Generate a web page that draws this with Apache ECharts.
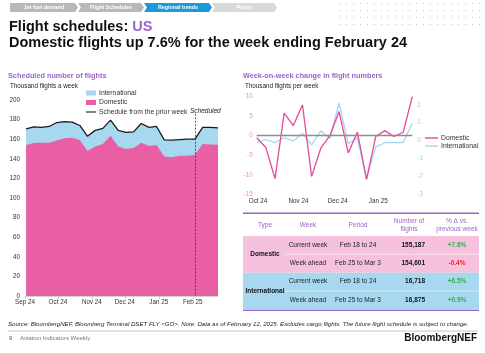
<!DOCTYPE html>
<html>
<head>
<meta charset="utf-8">
<script src="https://cdn.jsdelivr.net/npm/echarts@6/dist/echarts.min.js"></script>
<style>
  html, body { margin: 0; padding: 0; background: #fff; }
  #main { width: 485px; height: 353px; }
</style>
</head>
<body>
<div id="main"></div>
<script>
// ---- data ----
const leftDates = ['2024-09-02','2024-09-09','2024-09-16','2024-09-23','2024-09-30',
  '2024-10-07','2024-10-14','2024-10-21','2024-10-28','2024-11-04','2024-11-11','2024-11-18','2024-11-25',
  '2024-12-02','2024-12-09','2024-12-16','2024-12-23','2024-12-30','2025-01-06','2025-01-13','2025-01-20',
  '2025-01-27','2025-02-03','2025-02-10','2025-02-17','2025-02-24'];
const domestic = [154.2, 156, 156.5, 156.5, 158.6, 161, 161.6, 159.3, 148, 152.5, 155, 163.4, 152.5,
  150, 151, 156.5, 153, 154, 142.3, 141.7, 143, 143, 144.2, 155.2, 154.6, 154.3];
const international = [16.3, 16.5, 15.5, 16.5, 18.4, 17, 15.9, 14.7, 15, 16.5, 16, 16.1, 16.5,
  17, 16.5, 19.5, 19, 19, 17, 17.3, 16.5, 17, 15.7, 16.7, 16.9, 17.2];
const priorSchedule = [170.5, 172.5, 172, 173, 177, 178, 177.5, 174, 163, 169, 171, 179.5, 169,
  167, 167.5, 176, 172, 173, 159.3, 159, 159.5, 160, 160, 172, 172, 171.5];
const scheduledFrom = '2025-02-03';
const leftMonths = ['2024-09-01','2024-10-01','2024-11-01','2024-12-01','2025-01-01','2025-02-01'];

const rightDates = ['2024-09-30','2024-10-07','2024-10-14','2024-10-21','2024-10-28','2024-11-04',
  '2024-11-11','2024-11-18','2024-11-25','2024-12-02','2024-12-09','2024-12-16','2024-12-23',
  '2024-12-30','2025-01-06','2025-01-13','2025-01-20','2025-01-27'];
const domChange = [-0.5, -3, -11, 5.8, 2.6, 7.9, -10.4, -3.2, 0, 6.2, -4.4, 0.9, -11.2, -0.2, 1.3, -0.2, 0.9, 10];
const intlChange = [-0.12, 0.06, -0.12, 0.17, -0.02, 0.41, -0.24, 0.54, 0.13, 2.09, -0.18, 0.15, -2.15,
  -0.35, -0.12, -0.11, -0.11, 0.97];
const rightMonths = ['2024-10-01','2024-11-01','2024-12-01','2025-01-01'];

const tableTypes = ['Domestic', 'International'];
const tableWeeks = ['Current week', 'Week ahead'];
const tablePeriods = ['Feb 18 to 24', 'Feb 25 to Mar 3'];
const tableFlights = [['155,187', '154,601'], ['16,718', '16,875']];
const tableChange = [['+7.6%', '-0.4%'], ['+6.5%', '+0.9%']];

const navItems = ['Jet fuel demand', 'Flight Schedules', 'Regional trends', 'Prices'];

// ---- styles ----
const FONT = 'Liberation Sans, Arial, sans-serif';
const PINK = '#e85fa3';
const BLUE = '#a8d8f0';
const LINE_PINK = '#e8489a';
const LINE_BLUE = '#a6d7f0';
const PURPLE = '#9d62c8';
const LINE_ICON = 'path://M0,0H20V2.2H0Z';
const MON = ['Jan','Feb','Mar','Apr','May','Jun','Jul','Aug','Sep','Oct','Nov','Dec'];

function ts(s) { const p = s.split('-'); return new Date(+p[0], +p[1] - 1, +p[2]).getTime(); }
function monthLabel(v) { const d = new Date(v); return MON[d.getMonth()] + ' ' + String(d.getFullYear()).slice(2); }
function pairs(dates, vals) { return dates.map((d, i) => [ts(d), vals[i]]); }

// top of the blue band = domestic + international
const totalFlights = domestic.map((v, i) => +(v + international[i]).toFixed(1));

let myChart = echarts.init(document.getElementById('main'), null, { renderer: 'canvas' });

// dotted pattern, top right corner
let dotCanvas = document.createElement('canvas');
dotCanvas.width = 7; dotCanvas.height = 7;
let dctx = dotCanvas.getContext('2d');
dctx.fillStyle = '#c4c4c4';
dctx.fillRect(3, 3, 1, 1);

let graphics = [];
graphics.push({ type: 'rect', shape: { x: 335, y: 0, width: 150, height: 25 },
  style: { fill: { image: dotCanvas, repeat: 'repeat' } }, silent: true });

// navigation chevrons
const navX = [10, 78, 144, 212];
const navColors = ['#b8b8b8', '#b8b8b8', '#1b9ad6', '#d9d9d9'];
for (let i = 0; i < navItems.length; i++) {
  let x0 = navX[i], x1 = (i < 3 ? navX[i + 1] : 277) - 3;
  let pts = [[x0, 3], [x1, 3], [x1 + 3, 7.5], [x1, 12], [x0, 12]];
  if (i > 0) pts.push([x0 + 3, 7.5]);
  graphics.push({ type: 'polygon', shape: { points: pts }, style: { fill: navColors[i] }, silent: true });
  graphics.push({ type: 'text', x: (x0 + x1 + 3) / 2, y: 7.7,
    style: { text: navItems[i], fill: '#fff', font: 'bold 5.3px ' + FONT, align: 'center', verticalAlign: 'middle' } });
}

// headline
graphics.push({ type: 'text', x: 9, y: 27,
  style: { text: '{a|Flight schedules: }{b|US}', verticalAlign: 'middle',
    rich: { a: { font: 'bold 14.5px ' + FONT, fill: '#111' }, b: { font: 'bold 14.5px ' + FONT, fill: PURPLE } } } });
graphics.push({ type: 'text', x: 9, y: 43.3,
  style: { text: 'Domestic flights up 7.6% for the week ending February 24', font: 'bold 14.5px ' + FONT,
    fill: '#111', verticalAlign: 'middle' } });

// panel titles
graphics.push({ type: 'text', x: 8, y: 76, style: { text: 'Scheduled number of flights', font: 'bold 7.3px ' + FONT, fill: PURPLE, verticalAlign: 'middle' } });
graphics.push({ type: 'text', x: 10, y: 86.7, style: { text: 'Thousand flights a week', font: '6.3px ' + FONT, fill: '#222', verticalAlign: 'middle' } });
graphics.push({ type: 'text', x: 243, y: 76, style: { text: 'Week-on-week change in flight numbers', font: 'bold 7.3px ' + FONT, fill: PURPLE, verticalAlign: 'middle' } });
graphics.push({ type: 'text', x: 245, y: 86.7, style: { text: 'Thousand flights per week', font: '6.3px ' + FONT, fill: '#222', verticalAlign: 'middle' } });
graphics.push({ type: 'text', x: 190, y: 110.7, style: { text: 'Scheduled', font: 'italic 6.5px ' + FONT, fill: '#222', verticalAlign: 'middle' } });

// table
const tL = 243, tR = 479;
const colType = 265, colWeek = 308, colPeriod = 358, colNum = 425, colPct = 457;
const rowY = [245.7, 263.3, 281.7, 300];
graphics.push({ type: 'rect', shape: { x: tL, y: 236, width: tR - tL, height: 36.7 }, style: { fill: '#f6c1dd' } });
graphics.push({ type: 'rect', shape: { x: tL, y: 272.7, width: tR - tL, height: 37.3 }, style: { fill: BLUE } });
graphics.push({ type: 'line', shape: { x1: tL, y1: 310.5, x2: tR, y2: 310.5 }, style: { stroke: PURPLE, lineWidth: 1.2 } });
graphics.push({ type: 'line', shape: { x1: 285, y1: 254.3, x2: tR, y2: 254.3 }, style: { stroke: 'rgba(255,255,255,0.7)', lineWidth: 0.7 } });
graphics.push({ type: 'line', shape: { x1: 285, y1: 291, x2: tR, y2: 291 }, style: { stroke: 'rgba(255,255,255,0.7)', lineWidth: 0.7 } });
const headTxt = [['Type', colType], ['Week', colWeek], ['Period', colPeriod], ['Number of\nflights', colNum - 16], ['% \u0394 vs.\nprevious week', colPct]];
headTxt.forEach(h => graphics.push({ type: 'text', x: h[1], y: 225,
  style: { text: h[0], font: '6.5px ' + FONT, fill: PURPLE, align: 'center', verticalAlign: 'middle', lineHeight: 8 } }));
for (let g = 0; g < 2; g++) {
  graphics.push({ type: 'text', x: colType, y: (rowY[g * 2] + rowY[g * 2 + 1]) / 2,
    style: { text: tableTypes[g], font: 'bold 6.5px ' + FONT, fill: '#111', align: 'center', verticalAlign: 'middle' } });
  for (let r = 0; r < 2; r++) {
    let y = rowY[g * 2 + r];
    graphics.push({ type: 'text', x: colWeek, y: y, style: { text: tableWeeks[r], font: '6.5px ' + FONT, fill: '#222', align: 'center', verticalAlign: 'middle' } });
    graphics.push({ type: 'text', x: colPeriod, y: y, style: { text: tablePeriods[r], font: '6.5px ' + FONT, fill: '#222', align: 'center', verticalAlign: 'middle' } });
    graphics.push({ type: 'text', x: colNum, y: y, style: { text: tableFlights[g][r], font: 'bold 6.5px ' + FONT, fill: '#111', align: 'right', verticalAlign: 'middle' } });
    let pct = tableChange[g][r];
    graphics.push({ type: 'text', x: colPct, y: y, style: { text: pct, font: 'bold 6.5px ' + FONT,
      fill: pct.charAt(0) === '-' ? '#e8262b' : '#2fb34c', align: 'center', verticalAlign: 'middle' } });
  }
}
graphics.push({ type: 'line', shape: { x1: tL, y1: 213.3, x2: tR, y2: 213.3 }, style: { stroke: PURPLE, lineWidth: 1.5 } });

// footer
graphics.push({ type: 'text', x: 8, y: 324, style: { text: 'Source: BloombergNEF, Bloomberg Terminal DSET FLY <GO>. Note: Data as of February 12, 2025. Excludes cargo flights. The future flight schedule is subject to change.',
  font: 'italic 6.1px ' + FONT, fill: '#222', verticalAlign: 'middle' } });
graphics.push({ type: 'line', shape: { x1: 8, y1: 331, x2: 478, y2: 331 }, style: { stroke: '#c8a8e0', lineWidth: 0.8 } });
graphics.push({ type: 'text', x: 9, y: 338.5, style: { text: '9', font: '6px ' + FONT, fill: '#555', verticalAlign: 'middle' } });
graphics.push({ type: 'text', x: 20, y: 338.5, style: { text: 'Aviation Indicators Weekly', font: '6px ' + FONT, fill: '#777', verticalAlign: 'middle' } });
graphics.push({ type: 'text', x: 477, y: 338.5, style: { text: 'BloombergNEF', font: 'bold 10px ' + FONT, fill: '#111', align: 'right', verticalAlign: 'middle' } });

const axisText = { fontFamily: FONT, fontSize: 6.3, color: '#333' };

let option = {
  animation: false,
  textStyle: { fontFamily: FONT },
  legend: [{
    left: 86, top: 89.5, padding: 0, orient: 'vertical', itemWidth: 10, itemHeight: 5, itemGap: 2.5, selectedMode: false,
    textStyle: { fontFamily: FONT, fontSize: 6.8, color: '#333', padding: [0, 0, 0, -2] },
    data: [{ name: 'International', icon: 'rect' }, { name: 'Domestic', icon: 'rect' },
      { name: 'Schedule from the prior week', icon: LINE_ICON }]
  }, {
    left: 425, top: 134.5, padding: 0, orient: 'vertical', itemWidth: 13, itemHeight: 5, itemGap: 1, selectedMode: false,
    textStyle: { fontFamily: FONT, fontSize: 6.8, color: '#333', padding: [0, 0, 0, -2] },
    formatter: name => name.replace(' WoW', ''),
    data: [{ name: 'Domestic WoW', icon: LINE_ICON }, { name: 'International WoW', icon: LINE_ICON }]
  }],
  grid: [
    { left: 25, right: 267, top: 100, bottom: 57 },
    { left: 256.7, right: 72.7, top: 96.7, bottom: 158.7 }
  ],
  xAxis: [{
    gridIndex: 0, type: 'value', min: ts('2024-09-01'), max: ts('2025-02-24'),
    axisLine: { lineStyle: { color: '#c8c8c8', width: 0.8 } },
    axisTick: { show: true, length: 3, lineStyle: { color: '#c8c8c8' }, customValues: leftMonths.map(ts) },
    axisLabel: Object.assign({ customValues: leftMonths.map(ts), formatter: monthLabel, margin: 3 }, axisText),
    splitLine: { show: false }
  }, {
    gridIndex: 1, type: 'value', min: ts('2024-09-30'), max: ts('2025-01-27'),
    axisLine: { show: false, onZero: false }, axisTick: { show: false },
    axisLabel: Object.assign({ customValues: rightMonths.map(ts), formatter: monthLabel, margin: 4 }, axisText),
    splitLine: { show: false }
  }],
  yAxis: [{
    gridIndex: 0, type: 'value', min: 0, max: 200, interval: 20,
    axisLine: { show: false }, axisTick: { show: false }, splitLine: { show: false },
    axisLabel: Object.assign({ margin: 5 }, axisText)
  }, {
    gridIndex: 1, type: 'value', min: -15, max: 10, interval: 5,
    axisLine: { show: false }, axisTick: { show: false }, splitLine: { show: false },
    axisLabel: Object.assign({}, axisText, { color: '#f28cc2', margin: 4 })
  }, {
    gridIndex: 1, type: 'value', position: 'right', min: -3, max: 2.45, interval: 1,
    axisLine: { show: false }, axisTick: { show: false }, splitLine: { show: false },
    axisLabel: Object.assign({}, axisText, { color: '#9fd3ee', margin: 5,
      formatter: v => Number.isInteger(v) ? v : '' })
  }],
  graphic: graphics,
  series: [{
    name: 'International', type: 'line', xAxisIndex: 0, yAxisIndex: 0, z: 1,
    data: pairs(leftDates, totalFlights), symbol: 'none',
    lineStyle: { width: 0 }, itemStyle: { color: BLUE }, areaStyle: { color: BLUE, opacity: 1 }
  }, {
    name: 'Domestic', type: 'line', xAxisIndex: 0, yAxisIndex: 0, z: 2,
    data: pairs(leftDates, domestic), symbol: 'none',
    lineStyle: { width: 0 }, itemStyle: { color: PINK }, areaStyle: { color: PINK, opacity: 1 },
    markLine: {
      silent: true, symbol: 'none', label: { show: false },
      lineStyle: { color: '#333', width: 0.8, type: [2, 1.5] },
      data: [[{ coord: [ts(scheduledFrom), 186] }, { coord: [ts(scheduledFrom), 0] }]]
    }
  }, {
    name: 'Schedule from the prior week', type: 'line', xAxisIndex: 0, yAxisIndex: 0,
    data: pairs(leftDates, priorSchedule), symbol: 'none', z: 5,
    lineStyle: { width: 1.3, color: '#1a1a1a' }, itemStyle: { color: '#1a1a1a' }
  }, {
    name: 'Domestic WoW', type: 'line', xAxisIndex: 1, yAxisIndex: 1,
    data: pairs(rightDates, domChange), symbol: 'none', z: 4,
    lineStyle: { width: 1.3, color: LINE_PINK }, itemStyle: { color: LINE_PINK },
    markLine: {
      silent: true, symbol: 'none', label: { show: false },
      lineStyle: { color: '#8c8c8c', width: 1.3, type: 'solid' },
      data: [{ yAxis: 0 }]
    }
  }, {
    name: 'International WoW', type: 'line', xAxisIndex: 1, yAxisIndex: 2,
    data: pairs(rightDates, intlChange), symbol: 'none', z: 3,
    lineStyle: { width: 1.3, color: LINE_BLUE }, itemStyle: { color: LINE_BLUE }
  }]
};

myChart.setOption(option);
</script>
</body>
</html>
